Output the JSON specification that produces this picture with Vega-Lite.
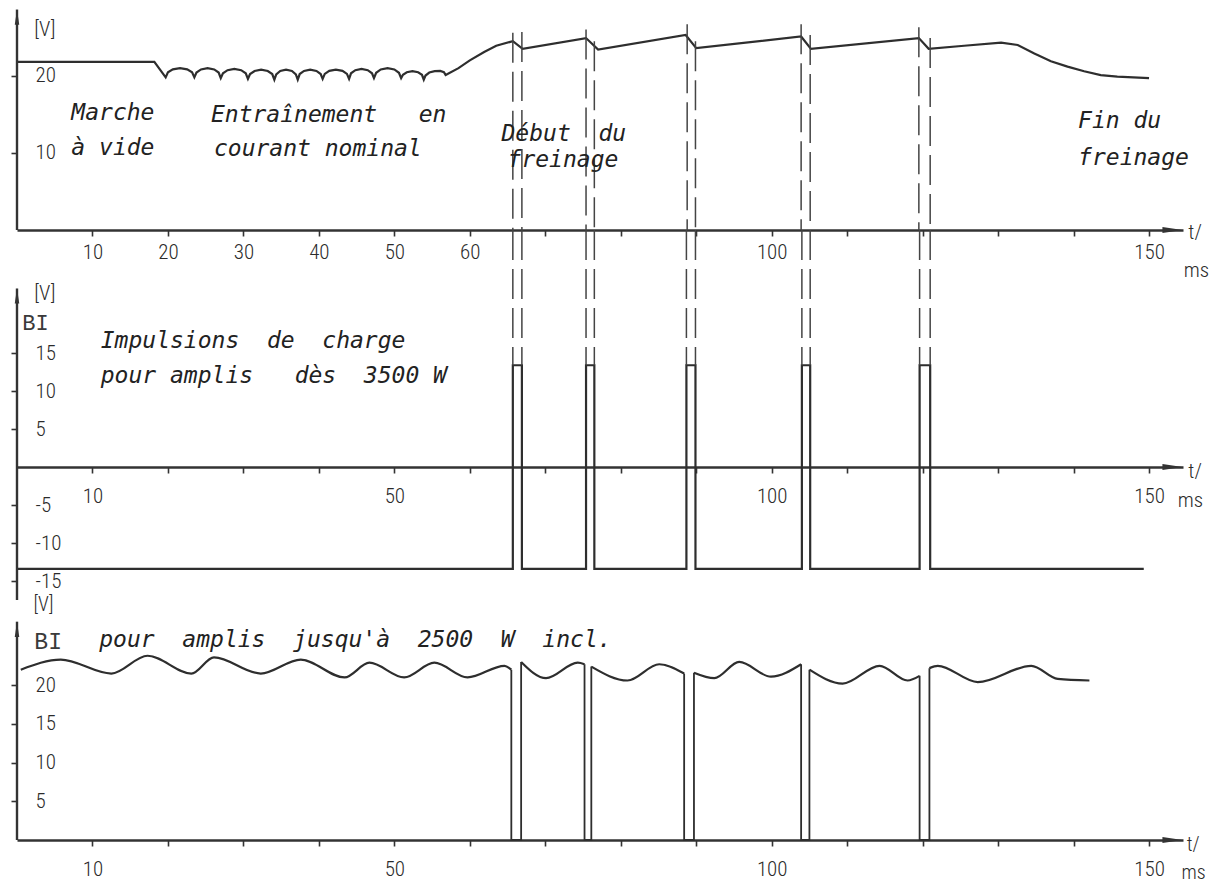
{
  "$schema": "https://vega.github.io/schema/vega-lite/v6.json",
  "background": "white",
  "padding": {"left": 10, "top": 8, "right": 4, "bottom": 2},
  "spacing": 0,
  "bounds": "flush",
  "config": {
    "view": {"stroke": null},
    "axis": {
      "grid": false, "title": null,
      "labelFont": "Roboto Condensed, Roboto, DejaVu Sans", "labelFontWeight": 300, "labelFontSize": 21, "labelColor": "#2b2b2b",
      "tickColor": "#333", "tickWidth": 1.6, "tickSize": 6,
      "domainColor": "#333", "domainWidth": 2.4,
      "labelFlush": false, "labelOverlap": false
    }
  },
  "datasets": {
    "one": [{"k": 1}],
    "p1": [
      {"t": 0, "v": 21.8}, {"t": 18.2, "v": 21.8}, {"t": 19.7, "v": 19.8},
      {"t": 20.0, "v": 20.45}, {"t": 20.65, "v": 20.84}, {"t": 21.6, "v": 21.0}, {"t": 22.55, "v": 20.84}, {"t": 23.2, "v": 20.45}, {"t": 23.5, "v": 19.8},
      {"t": 23.78, "v": 20.43}, {"t": 24.38, "v": 20.83}, {"t": 25.25, "v": 21.0}, {"t": 26.13, "v": 20.83}, {"t": 26.72, "v": 20.43}, {"t": 27.0, "v": 19.7},
      {"t": 27.29, "v": 20.33}, {"t": 27.9, "v": 20.73}, {"t": 28.8, "v": 20.9}, {"t": 29.7, "v": 20.73}, {"t": 30.31, "v": 20.33}, {"t": 30.6, "v": 19.6},
      {"t": 30.88, "v": 20.23}, {"t": 31.48, "v": 20.63}, {"t": 32.35, "v": 20.8}, {"t": 33.23, "v": 20.63}, {"t": 33.82, "v": 20.23}, {"t": 34.1, "v": 19.5},
      {"t": 34.35, "v": 20.2}, {"t": 34.88, "v": 20.63}, {"t": 35.65, "v": 20.8}, {"t": 36.43, "v": 20.63}, {"t": 36.95, "v": 20.2}, {"t": 37.2, "v": 19.5},
      {"t": 37.46, "v": 20.23}, {"t": 38.03, "v": 20.63}, {"t": 38.85, "v": 20.8}, {"t": 39.68, "v": 20.63}, {"t": 40.24, "v": 20.23}, {"t": 40.5, "v": 19.6},
      {"t": 40.78, "v": 20.25}, {"t": 41.38, "v": 20.64}, {"t": 42.25, "v": 20.8}, {"t": 43.13, "v": 20.64}, {"t": 43.72, "v": 20.25}, {"t": 44.0, "v": 19.6},
      {"t": 44.26, "v": 20.33}, {"t": 44.83, "v": 20.73}, {"t": 45.65, "v": 20.9}, {"t": 46.48, "v": 20.73}, {"t": 47.04, "v": 20.33}, {"t": 47.3, "v": 19.7},
      {"t": 47.59, "v": 20.4}, {"t": 48.2, "v": 20.83}, {"t": 49.1, "v": 21.0}, {"t": 50.0, "v": 20.83}, {"t": 50.61, "v": 20.4}, {"t": 50.9, "v": 19.7},
      {"t": 51.14, "v": 20.14}, {"t": 51.65, "v": 20.47}, {"t": 52.4, "v": 20.6}, {"t": 53.15, "v": 20.47}, {"t": 53.66, "v": 20.14}, {"t": 53.9, "v": 19.5},
      {"t": 54.13, "v": 20.04}, {"t": 54.63, "v": 20.43}, {"t": 55.35, "v": 20.6}, {"t": 56.08, "v": 20.64}, {"t": 56.57, "v": 20.48}, {"t": 56.8, "v": 20.1},
      {"t": 58.5, "v": 21.0}, {"t": 60.0, "v": 22.0}, {"t": 61.9, "v": 23.1}, {"t": 63.5, "v": 23.9}, {"t": 65.7, "v": 24.5},
      {"t": 67.0, "v": 23.5}, {"t": 75.4, "v": 24.9}, {"t": 77.0, "v": 23.4}, {"t": 88.6, "v": 25.3}, {"t": 90.0, "v": 23.6},
      {"t": 103.9, "v": 25.1}, {"t": 105.2, "v": 23.5}, {"t": 119.5, "v": 24.9}, {"t": 120.8, "v": 23.5},
      {"t": 125.5, "v": 23.9}, {"t": 130.4, "v": 24.3}, {"t": 132.6, "v": 24.0}, {"t": 134.8, "v": 22.9},
      {"t": 137.0, "v": 21.9}, {"t": 139.2, "v": 21.2}, {"t": 141.4, "v": 20.6}, {"t": 143.6, "v": 20.1},
      {"t": 145.8, "v": 19.9}, {"t": 150.0, "v": 19.7}
    ],
    "p1dash": [
      {"t": 65.7, "v": 25.6}, {"t": 66.9, "v": 25.7},
      {"t": 75.4, "v": 26.0}, {"t": 76.5, "v": 24.5},
      {"t": 88.8, "v": 26.7}, {"t": 89.9, "v": 24.5},
      {"t": 103.9, "v": 26.7}, {"t": 105.1, "v": 25.3},
      {"t": 119.5, "v": 26.3}, {"t": 121.0, "v": 24.9}
    ],
    "p1hand": [
      {"t": 7.2, "v": 15.2, "label": "Marche"},
      {"t": 7.2, "v": 10.6, "label": "à vide"},
      {"t": 25.7, "v": 14.9, "label": "Entraînement\u00a0\u00a0 en"},
      {"t": 26.1, "v": 10.5, "label": "courant nominal"},
      {"t": 64.2, "v": 12.5, "label": "Début\u00a0 du"},
      {"t": 65.0, "v": 9.1, "label": "freinage"},
      {"t": 140.6, "v": 14.2, "label": "Fin du"},
      {"t": 140.6, "v": 9.4, "label": "freinage"}
    ],
    "p1tech": [
      {"t": 2.3, "v": 26.0, "label": "[V]"},
      {"t": 155.2, "v": -0.4, "label": "t/"},
      {"t": 154.6, "v": -5.3, "label": "ms"}
    ],
    "p2": [
      {"i": 0, "t": 0, "v": -13.4}, {"i": 1, "t": 65.7, "v": -13.4}, {"i": 2, "t": 65.7, "v": 13.4}, {"i": 3, "t": 66.9, "v": 13.4}, {"i": 4, "t": 66.9, "v": -13.4},
      {"i": 5, "t": 75.4, "v": -13.4}, {"i": 6, "t": 75.4, "v": 13.4}, {"i": 7, "t": 76.5, "v": 13.4}, {"i": 8, "t": 76.5, "v": -13.4},
      {"i": 9, "t": 88.7, "v": -13.4}, {"i": 10, "t": 88.7, "v": 13.4}, {"i": 11, "t": 89.9, "v": 13.4}, {"i": 12, "t": 89.9, "v": -13.4},
      {"i": 13, "t": 104.0, "v": -13.4}, {"i": 14, "t": 104.0, "v": 13.4}, {"i": 15, "t": 105.1, "v": 13.4}, {"i": 16, "t": 105.1, "v": -13.4},
      {"i": 17, "t": 119.6, "v": -13.4}, {"i": 18, "t": 119.6, "v": 13.4}, {"i": 19, "t": 121.0, "v": 13.4}, {"i": 20, "t": 121.0, "v": -13.4},
      {"i": 21, "t": 149.3, "v": -13.4}
    ],
    "p2dash": [
      {"t": 65.7}, {"t": 66.9}, {"t": 75.4}, {"t": 76.5}, {"t": 88.7},
      {"t": 89.9}, {"t": 104.0}, {"t": 105.1}, {"t": 119.6}, {"t": 121.0}
    ],
    "p2hand": [
      {"t": 11.1, "v": 16.6, "label": "Impulsions\u00a0 de\u00a0 charge"},
      {"t": 11.1, "v": 12.0, "label": "pour amplis\u00a0\u00a0 dès\u00a0 3500 W"}
    ],
    "p2tech": [
      {"t": 2.3, "v": 22.8, "label": "[V]"},
      {"t": 155.2, "v": -0.7, "label": "t/"},
      {"t": 153.8, "v": -4.5, "label": "ms"}
    ],
    "p2bi": [
      {"t": 0.7, "v": 19.0, "label": "BI"}
    ],
    "p3wave": [
      {"seg": 1, "t": 0.5, "v": 22.0}, {"seg": 1, "t": 5.8, "v": 23.3}, {"seg": 1, "t": 12.5, "v": 21.5}, {"seg": 1, "t": 17.3, "v": 23.8},
      {"seg": 1, "t": 23.1, "v": 21.5}, {"seg": 1, "t": 26.1, "v": 23.6}, {"seg": 1, "t": 32.3, "v": 21.5}, {"seg": 1, "t": 37.6, "v": 23.3},
      {"seg": 1, "t": 43.4, "v": 21.0}, {"seg": 1, "t": 46.7, "v": 22.9}, {"seg": 1, "t": 51.3, "v": 21.0}, {"seg": 1, "t": 55.3, "v": 22.9},
      {"seg": 1, "t": 59.7, "v": 21.0}, {"seg": 1, "t": 64.6, "v": 22.5}, {"seg": 1, "t": 65.5, "v": 22.0},
      {"seg": 2, "t": 66.8, "v": 23.0}, {"seg": 2, "t": 70.1, "v": 20.9}, {"seg": 2, "t": 74.3, "v": 22.9}, {"seg": 2, "t": 75.2, "v": 22.7},
      {"seg": 3, "t": 76.1, "v": 22.4}, {"seg": 3, "t": 80.9, "v": 20.6}, {"seg": 3, "t": 85.1, "v": 22.7}, {"seg": 3, "t": 88.4, "v": 21.5},
      {"seg": 4, "t": 89.7, "v": 21.6}, {"seg": 4, "t": 92.4, "v": 20.9}, {"seg": 4, "t": 95.7, "v": 23.0}, {"seg": 4, "t": 99.9, "v": 21.1}, {"seg": 4, "t": 103.9, "v": 22.7},
      {"seg": 5, "t": 105.0, "v": 22.0}, {"seg": 5, "t": 109.4, "v": 20.2}, {"seg": 5, "t": 114.3, "v": 22.5}, {"seg": 5, "t": 118.0, "v": 20.6}, {"seg": 5, "t": 119.6, "v": 21.2},
      {"seg": 6, "t": 120.9, "v": 22.2}, {"seg": 6, "t": 122.0, "v": 22.5}, {"seg": 6, "t": 127.3, "v": 20.4}, {"seg": 6, "t": 134.4, "v": 22.5}, {"seg": 6, "t": 137.9, "v": 20.8}, {"seg": 6, "t": 142.1, "v": 20.6}
    ],
    "p3drop": [
      {"seg": 1, "i": 0, "t": 65.5, "v": 22.0}, {"seg": 1, "i": 1, "t": 65.5, "v": 0}, {"seg": 1, "i": 2, "t": 66.8, "v": 0}, {"seg": 1, "i": 3, "t": 66.8, "v": 23.0},
      {"seg": 2, "i": 0, "t": 75.2, "v": 22.7}, {"seg": 2, "i": 1, "t": 75.2, "v": 0}, {"seg": 2, "i": 2, "t": 76.1, "v": 0}, {"seg": 2, "i": 3, "t": 76.1, "v": 22.4},
      {"seg": 3, "i": 0, "t": 88.4, "v": 21.5}, {"seg": 3, "i": 1, "t": 88.4, "v": 0}, {"seg": 3, "i": 2, "t": 89.7, "v": 0}, {"seg": 3, "i": 3, "t": 89.7, "v": 21.6},
      {"seg": 4, "i": 0, "t": 103.9, "v": 22.7}, {"seg": 4, "i": 1, "t": 103.9, "v": 0}, {"seg": 4, "i": 2, "t": 105.0, "v": 0}, {"seg": 4, "i": 3, "t": 105.0, "v": 22.0},
      {"seg": 5, "i": 0, "t": 119.6, "v": 21.2}, {"seg": 5, "i": 1, "t": 119.6, "v": 0}, {"seg": 5, "i": 2, "t": 120.9, "v": 0}, {"seg": 5, "i": 3, "t": 120.9, "v": 22.2}
    ],
    "p3hand": [
      {"t": 10.9, "v": 25.8, "label": "pour\u00a0 amplis\u00a0 jusqu'à\u00a0 2500\u00a0 W\u00a0 incl."}
    ],
    "p3tech": [
      {"t": 2.2, "v": 30.4, "label": "[V]"},
      {"t": 155.0, "v": -0.7, "label": "t/"},
      {"t": 154.3, "v": -4.2, "label": "ms"}
    ],
    "p3bi": [
      {"t": 2.3, "v": 25.6, "label": "BI"}
    ]
  },
  "vconcat": [
    {
      "width": 1166, "height": 222,
      "layer": [
        {"data": {"name": "p1"}, "mark": {"type": "line", "strokeWidth": 2.2, "color": "#2e2e2e"},
          "encoding": {
            "x": {"field": "t", "type": "quantitative", "scale": {"domain": [0, 154.5], "nice": false, "zero": false},
              "axis": {"values": [10, 20, 30, 40, 50, 60, 70, 80, 90, 100, 110, 120, 130, 140, 150],
                "labelExpr": "indexof([10, 20, 30, 40, 50, 60, 100, 150], datum.value) >= 0 ? datum.label : ''",
                "labelPadding": 5}},
            "y": {"field": "v", "type": "quantitative", "scale": {"domain": [0, 28.8], "nice": false, "zero": false},
              "axis": {"values": [10, 20], "domain": false, "labelAlign": "left", "labelPadding": -24}}
          }},
        {"data": {"name": "one"}, "mark": {"type": "rule", "strokeWidth": 2.4, "color": "#333"},
          "encoding": {
            "x": {"datum": 0, "type": "quantitative", "scale": {"domain": [0, 154.5], "nice": false, "zero": false}},
            "y": {"datum": 0, "type": "quantitative", "scale": {"domain": [0, 28.8], "nice": false, "zero": false}},
            "y2": {"datum": 28.6}}},
        {"data": {"name": "one"}, "mark": {"type": "point", "shape": "M -0.3 1 L 0 -1 L 0.3 1 Z", "filled": true, "size": 225, "color": "#333", "opacity": 1},
          "encoding": {
            "x": {"datum": 0, "type": "quantitative", "scale": {"domain": [0, 154.5], "nice": false, "zero": false}},
            "y": {"datum": 27.6, "type": "quantitative", "scale": {"domain": [0, 28.8], "nice": false, "zero": false}}}},
        {"data": {"name": "one"}, "mark": {"type": "point", "shape": "M -1 -0.3 L 1 0 L -1 0.3 Z", "filled": true, "size": 400, "color": "#333", "opacity": 1},
          "encoding": {
            "x": {"datum": 153.1, "type": "quantitative", "scale": {"domain": [0, 154.5], "nice": false, "zero": false}},
            "y": {"datum": 0, "type": "quantitative", "scale": {"domain": [0, 28.8], "nice": false, "zero": false}}}},
        {"data": {"name": "p1dash"}, "mark": {"type": "rule", "strokeDash": [30, 9], "strokeWidth": 1.5, "color": "#444"},
          "encoding": {
            "x": {"field": "t", "type": "quantitative", "scale": {"domain": [0, 154.5], "nice": false, "zero": false}},
            "y": {"field": "v", "type": "quantitative", "scale": {"domain": [0, 28.8], "nice": false, "zero": false}},
            "y2": {"datum": 0}}},
        {"data": {"name": "p1hand"}, "mark": {"type": "text", "align": "left", "baseline": "middle", "font": "DejaVu Sans Mono", "fontStyle": "italic", "fontSize": 23, "color": "#222"},
          "encoding": {
            "x": {"field": "t", "type": "quantitative", "scale": {"domain": [0, 154.5], "nice": false, "zero": false}},
            "y": {"field": "v", "type": "quantitative", "scale": {"domain": [0, 28.8], "nice": false, "zero": false}},
            "text": {"field": "label"}}},
        {"data": {"name": "p1tech"}, "mark": {"type": "text", "align": "left", "baseline": "middle", "font": "Roboto Condensed, Roboto, DejaVu Sans", "fontWeight": 300, "fontSize": 21, "color": "#2b2b2b"},
          "encoding": {
            "x": {"field": "t", "type": "quantitative", "scale": {"domain": [0, 154.5], "nice": false, "zero": false}},
            "y": {"field": "v", "type": "quantitative", "scale": {"domain": [0, 28.8], "nice": false, "zero": false}},
            "text": {"field": "label"}}}
      ]
    },
    {
      "width": 1166, "height": 370,
      "layer": [
        {"data": {"name": "p2"}, "mark": {"type": "line", "strokeWidth": 2.2, "color": "#2e2e2e"},
          "encoding": {
            "x": {"field": "t", "type": "quantitative", "scale": {"domain": [0, 154.5], "nice": false, "zero": false},
              "axis": {"values": [10, 20, 30, 40, 50, 60, 70, 80, 90, 100, 110, 120, 130, 140, 150],
                "labelExpr": "indexof([10, 50, 100, 150], datum.value) >= 0 ? datum.label : ''",
                "labelPadding": 12, "offset": -133}},
            "y": {"field": "v", "type": "quantitative", "scale": {"domain": [-17.5, 31.2], "nice": false, "zero": false},
              "axis": {"values": [-15, -10, -5, 5, 10, 15], "domain": false, "labelAlign": "left", "labelPadding": -24,
                "labelExpr": "datum.value < 0 ? '-' + abs(datum.value) : datum.label"}},
            "order": {"field": "i", "type": "quantitative"}
          }},
        {"data": {"name": "one"}, "mark": {"type": "rule", "strokeWidth": 2.4, "color": "#333"},
          "encoding": {
            "x": {"datum": 0, "type": "quantitative", "scale": {"domain": [0, 154.5], "nice": false, "zero": false}},
            "y": {"datum": -17.5, "type": "quantitative", "scale": {"domain": [-17.5, 31.2], "nice": false, "zero": false}},
            "y2": {"datum": 23.5}}},
        {"data": {"name": "one"}, "mark": {"type": "point", "shape": "M -0.3 1 L 0 -1 L 0.3 1 Z", "filled": true, "size": 225, "color": "#333", "opacity": 1},
          "encoding": {
            "x": {"datum": 0, "type": "quantitative", "scale": {"domain": [0, 154.5], "nice": false, "zero": false}},
            "y": {"datum": 22.5, "type": "quantitative", "scale": {"domain": [-17.5, 31.2], "nice": false, "zero": false}}}},
        {"data": {"name": "one"}, "mark": {"type": "point", "shape": "M -1 -0.3 L 1 0 L -1 0.3 Z", "filled": true, "size": 400, "color": "#333", "opacity": 1},
          "encoding": {
            "x": {"datum": 153.1, "type": "quantitative", "scale": {"domain": [0, 154.5], "nice": false, "zero": false}},
            "y": {"datum": 0, "type": "quantitative", "scale": {"domain": [-17.5, 31.2], "nice": false, "zero": false}}}},
        {"data": {"name": "p2dash"}, "mark": {"type": "rule", "strokeDash": [30, 9], "strokeWidth": 1.5, "color": "#444"},
          "encoding": {
            "x": {"field": "t", "type": "quantitative", "scale": {"domain": [0, 154.5], "nice": false, "zero": false}},
            "y": {"datum": 31.2, "type": "quantitative", "scale": {"domain": [-17.5, 31.2], "nice": false, "zero": false}},
            "y2": {"datum": 13.4}}},
        {"data": {"name": "p2hand"}, "mark": {"type": "text", "align": "left", "baseline": "middle", "font": "DejaVu Sans Mono", "fontStyle": "italic", "fontSize": 23, "color": "#222"},
          "encoding": {
            "x": {"field": "t", "type": "quantitative", "scale": {"domain": [0, 154.5], "nice": false, "zero": false}},
            "y": {"field": "v", "type": "quantitative", "scale": {"domain": [-17.5, 31.2], "nice": false, "zero": false}},
            "text": {"field": "label"}}},
        {"data": {"name": "p2tech"}, "mark": {"type": "text", "align": "left", "baseline": "middle", "font": "Roboto Condensed, Roboto, DejaVu Sans", "fontWeight": 300, "fontSize": 21, "color": "#2b2b2b"},
          "encoding": {
            "x": {"field": "t", "type": "quantitative", "scale": {"domain": [0, 154.5], "nice": false, "zero": false}},
            "y": {"field": "v", "type": "quantitative", "scale": {"domain": [-17.5, 31.2], "nice": false, "zero": false}},
            "text": {"field": "label"}}},
        {"data": {"name": "p2bi"}, "mark": {"type": "text", "align": "left", "baseline": "middle", "font": "Liberation Mono, DejaVu Sans Mono", "fontSize": 22, "color": "#3a3a3a"},
          "encoding": {
            "x": {"field": "t", "type": "quantitative", "scale": {"domain": [0, 154.5], "nice": false, "zero": false}},
            "y": {"field": "v", "type": "quantitative", "scale": {"domain": [-17.5, 31.2], "nice": false, "zero": false}},
            "text": {"field": "label"}}}
      ]
    },
    {
      "width": 1166, "height": 240,
      "layer": [
        {"data": {"name": "p3wave"}, "mark": {"type": "line", "strokeWidth": 2.2, "color": "#2e2e2e", "interpolate": "monotone"},
          "encoding": {
            "x": {"field": "t", "type": "quantitative", "scale": {"domain": [0, 154.5], "nice": false, "zero": false},
              "axis": {"values": [10, 20, 30, 40, 50, 60, 70, 80, 90, 100, 110, 120, 130, 140, 150],
                "labelExpr": "indexof([10, 50, 100, 150], datum.value) >= 0 ? datum.label : ''",
                "labelPadding": 12}},
            "y": {"field": "v", "type": "quantitative", "scale": {"domain": [0, 31.0], "nice": false, "zero": false},
              "axis": {"values": [5, 10, 15, 20], "domain": false, "labelAlign": "left", "labelPadding": -24}},
            "detail": {"field": "seg", "type": "nominal"}
          }},
        {"data": {"name": "p3drop"}, "mark": {"type": "line", "strokeWidth": 1.8, "color": "#2e2e2e"},
          "encoding": {
            "x": {"field": "t", "type": "quantitative", "scale": {"domain": [0, 154.5], "nice": false, "zero": false}},
            "y": {"field": "v", "type": "quantitative", "scale": {"domain": [0, 31.0], "nice": false, "zero": false}},
            "detail": {"field": "seg", "type": "nominal"},
            "order": {"field": "i", "type": "quantitative"}}},
        {"data": {"name": "one"}, "mark": {"type": "rule", "strokeWidth": 2.4, "color": "#333"},
          "encoding": {
            "x": {"datum": 0, "type": "quantitative", "scale": {"domain": [0, 154.5], "nice": false, "zero": false}},
            "y": {"datum": 0, "type": "quantitative", "scale": {"domain": [0, 31.0], "nice": false, "zero": false}},
            "y2": {"datum": 28.2}}},
        {"data": {"name": "one"}, "mark": {"type": "point", "shape": "M -0.3 1 L 0 -1 L 0.3 1 Z", "filled": true, "size": 225, "color": "#333", "opacity": 1},
          "encoding": {
            "x": {"datum": 0, "type": "quantitative", "scale": {"domain": [0, 154.5], "nice": false, "zero": false}},
            "y": {"datum": 27.2, "type": "quantitative", "scale": {"domain": [0, 31.0], "nice": false, "zero": false}}}},
        {"data": {"name": "one"}, "mark": {"type": "point", "shape": "M -1 -0.3 L 1 0 L -1 0.3 Z", "filled": true, "size": 400, "color": "#333", "opacity": 1},
          "encoding": {
            "x": {"datum": 153.1, "type": "quantitative", "scale": {"domain": [0, 154.5], "nice": false, "zero": false}},
            "y": {"datum": 0, "type": "quantitative", "scale": {"domain": [0, 31.0], "nice": false, "zero": false}}}},
        {"data": {"name": "p3hand"}, "mark": {"type": "text", "align": "left", "baseline": "middle", "font": "DejaVu Sans Mono", "fontStyle": "italic", "fontSize": 23, "color": "#222"},
          "encoding": {
            "x": {"field": "t", "type": "quantitative", "scale": {"domain": [0, 154.5], "nice": false, "zero": false}},
            "y": {"field": "v", "type": "quantitative", "scale": {"domain": [0, 31.0], "nice": false, "zero": false}},
            "text": {"field": "label"}}},
        {"data": {"name": "p3tech"}, "mark": {"type": "text", "align": "left", "baseline": "middle", "font": "Roboto Condensed, Roboto, DejaVu Sans", "fontWeight": 300, "fontSize": 20, "color": "#2b2b2b"},
          "encoding": {
            "x": {"field": "t", "type": "quantitative", "scale": {"domain": [0, 154.5], "nice": false, "zero": false}},
            "y": {"field": "v", "type": "quantitative", "scale": {"domain": [0, 31.0], "nice": false, "zero": false}},
            "text": {"field": "label"}}},
        {"data": {"name": "p3bi"}, "mark": {"type": "text", "align": "left", "baseline": "middle", "font": "Liberation Mono, DejaVu Sans Mono", "fontSize": 23, "color": "#3a3a3a"},
          "encoding": {
            "x": {"field": "t", "type": "quantitative", "scale": {"domain": [0, 154.5], "nice": false, "zero": false}},
            "y": {"field": "v", "type": "quantitative", "scale": {"domain": [0, 31.0], "nice": false, "zero": false}},
            "text": {"field": "label"}}}
      ]
    }
  ]
}
